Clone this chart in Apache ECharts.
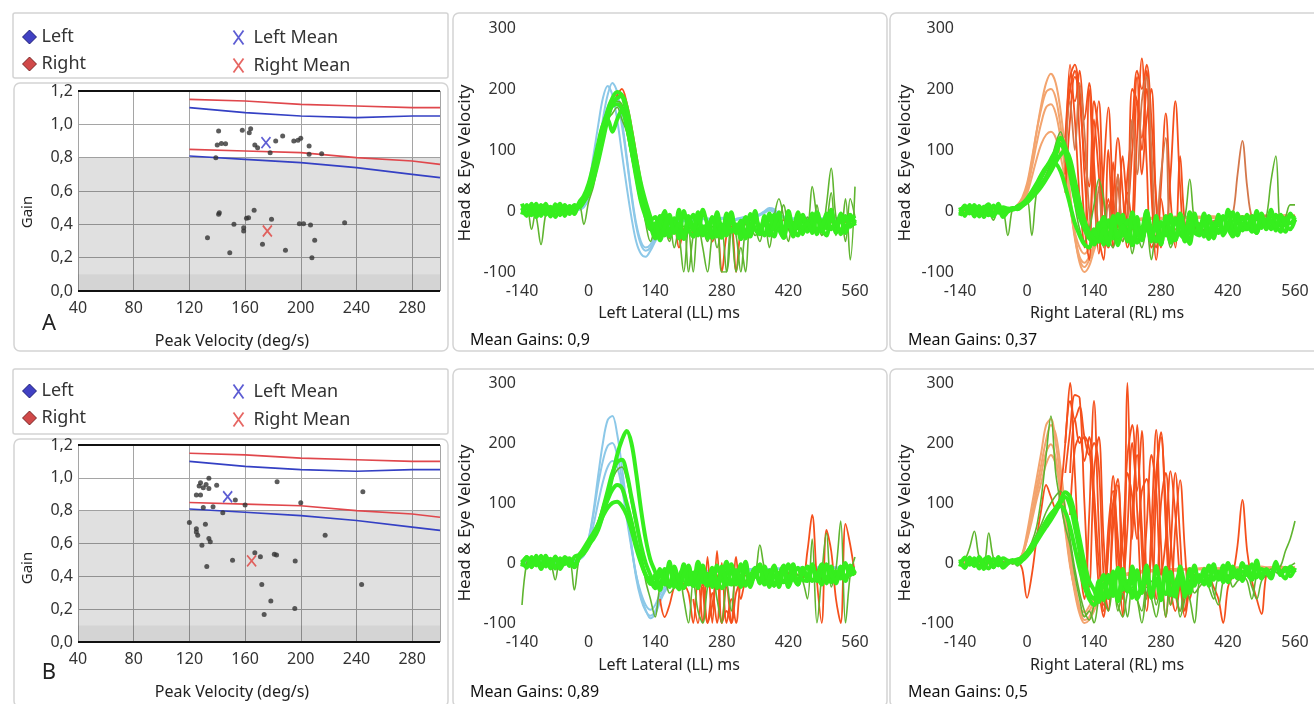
<!DOCTYPE html>
<html>
<head>
<meta charset="utf-8">
<script src="https://cdn.jsdelivr.net/npm/echarts@6/dist/echarts.min.js"></script>
<style>
  html, body { margin: 0; padding: 0; background: #fff; }
  #c { width: 1314px; height: 704px; }
</style>
</head>
<body>
<div id="c"></div>
<script>
// sample step of the velocity traces (ms); every trace starts at its own t0
var STEP = 10;

// ---- gain vs peak velocity ----
var normVel = [120, 160, 200, 240, 280, 300];
var redUpper = [1.15, 1.14, 1.12, 1.11, 1.10, 1.10];
var blueUpper = [1.10, 1.07, 1.05, 1.04, 1.05, 1.05];
var redLower = [0.85, 0.84, 0.83, 0.80, 0.78, 0.76];
var blueLower = [0.81, 0.79, 0.77, 0.74, 0.70, 0.68];

var scatA_left = [[141,0.96],[140,0.876],[146,0.884],[158,0.964],[164,0.974],[167,0.876],[169,0.86],[182,0.90],[187,0.93],[195,0.90],[200,0.916],[206,0.87],[206,0.82],[215,0.824],[178,0.83],[139,0.80],[143,0.885],[163,0.95],[198,0.905]];
var scatA_right = [[133,0.32],[141,0.46],[141.5,0.47],[149,0.23],[152,0.40],[159,0.36],[159,0.38],[161,0.436],[162.5,0.44],[166.5,0.484],[172.5,0.28],[179,0.43],[189,0.244],[199,0.404],[202,0.404],[207,0.396],[210,0.304],[208,0.20],[231.5,0.41]];
var meanA = { left: [175, 0.89], right: [176, 0.36] };

var scatB_left = [[127,0.95],[130,0.94],[134,0.997],[132,0.96],[134,0.935],[139.6,0.955],[125,0.895],[128,0.895],[153,0.865],[160,0.834],[183,0.976],[200,0.848],[244.6,0.915],[144,0.787],[137,0.824],[130,0.82],[128,0.97]];
var scatB_right = [[120,0.728],[125,0.69],[126,0.65],[131.5,0.718],[129,0.59],[134,0.63],[135,0.61],[132.5,0.46],[151,0.498],[167,0.543],[171,0.52],[181,0.535],[182.6,0.53],[196,0.494],[172,0.35],[178.5,0.25],[173.7,0.167],[195.7,0.204],[217.5,0.65],[243.7,0.35],[125,0.67]];
var meanB = { left: [147.5, 0.885], right: [164.7, 0.494] };

var meanGains = ['0,9', '0,37', '0,89', '0,5'];

// ---- A, left lateral ----
var llA_head = [
  [0,2,-1,1,0,-2,1,0,2,-1, 0,1,3,8,25,55,100,150,190,210, 195,150,90,30,-20,-50,-60,-55,-40,-30, -25,-20,-18,-15,-16,-14,-12,-15,-13,-12, -14,-15,-12,-10,-13,-15,-12,-11,-10,-8, -5,0,5,3,-5,-10,-12,-14,-13,-11, -12,-10,-13,-14,-12,-11,-13,-12,-10,-12, -11],
  [1,-1,0,2,1,-1,0,1,-1,0, 2,4,10,20,45,90,140,185,205,190, 150,95,40,-10,-50,-70,-75,-65,-50,-38, -30,-25,-20,-18,-17,-15,-16,-14,-13,-15, -12,-14,-13,-11,-12,-14,-12,-10,-11,-9, -6,-2,2,0,-6,-9,-11,-13,-12,-10, -11,-12,-10,-13,-12,-10,-11,-13,-12,-11, -10],
  [-1,0,1,0,-1,1,2,0,-1,1, 0,1,2,6,20,48,90,135,170,182, 178,140,85,25,-25,-55,-65,-60,-45,-32, -27,-22,-19,-17,-15,-14,-13,-15,-12,-13, -15,-13,-11,-12,-14,-13,-11,-10,-12,-10, -7,-3,1,-2,-7,-11,-12,-12,-11,-12, -13,-11,-12,-12,-10,-12,-13,-11,-12,-13, -12]
];
var llA_sacc = [
  { t0: -140, v: [8,4,6,10,5,8,4,9,6,3, 7,5,9,14,26,48,78,112,148,172, 190,200,178,140,95,50,10,-20,-35,-40, -30,-45,-25,-60,-30,-20,-35,-28,-40,-25, -50,-30,-100,-40,-25,-100,-30,-22,-28,-20, -25,-18,-22,-28,-20,-15,-22,-18,-20,-15, -18,-22,-15,-20,-12,-18,-22,-14,-18,-16, -15] }
];
var llA_eye = [
  [5,-8,12,-4,10,-6,7,-10,6,-3, 8,-5,12,20,35,60,95,130,165,185, 195,190,160,115,70,30,5,-15,-10,-40, -5,-38,-12,-45,0,-30,-42,-8,-35,-20, -44,-2,-30,-40,-10,-36,-18,-45,-5,-30, -38,-8,-28,-42,-12,-34,0,-30,-40,-10, -32,-4,-38,-15,-28,2,-36,-12,-30,-6, -20],
  [-6,10,-2,12,-8,6,-4,11,-7,8, -5,10,6,15,28,50,80,115,150,175, 185,188,170,130,85,45,15,-10,-35,-8, -40,-15,-32,2,-44,-20,-6,-38,-25,-45, -10,-30,-42,-4,-34,-22,-46,-12,-28,0, -36,-18,-40,-6,-30,-44,-14,-24,-2,-38, -16,-30,-8,-34,-20,-2,-28,-14,-32,-10, -24],
  [12,-4,8,-10,4,10,-6,2,12,-8, 6,-2,14,25,45,75,110,140,150,130, 150,165,140,100,60,20,-5,-25,-45,-20, 0,-42,-18,-30,-46,-8,-26,-40,2,-22, -38,-14,-44,-24,-2,-36,-28,-10,-42,-16, -26,-40,-4,-30,-20,-44,-10,-34,-24,-6, -34,-18,-2,-28,-40,-12,-24,-4,-36,-16, -8],
  [0,6,-7,9,-3,12,-9,4,-5,10, -2,7,8,18,40,70,105,140,162,172, 175,168,140,100,55,15,-10,-30,-20,-48, -25,-6,-36,-20,-44,-14,-32,-2,-40,-28, -12,-42,-22,-34,-6,-30,-16,-40,-26,-8, -30,-12,-38,-24,-2,-36,-20,-42,-10,-28, -20,-36,-10,-26,-4,-30,-18,-38,-8,-26, -14]
];
var llA_eyeDark = [
  [5,2,8,-10,-55,-5,8,3,6,2, 8,4,10,-22,15,40,80,120,150,160, 170,150,130,90,55,20,-10,-30,-40,-20, -30,-50,-20,-40,-100,-30,-100,-20,-60,-100, -40,-20,-100,-100,-30,-100,-60,-100,-20,-30, -50,-20,-60,-10,20,-10,-50,-20,-30,-15, -20,40,-10,-40,10,70,-10,-30,20,-80, 40],
  [0,6,-30,4,8,2,6,0,4,8, 5,0,6,12,30,60,100,135,160,175, 180,175,150,110,65,25,-20,-50,-30,-25, -40,-20,-60,-30,-25,-100,-40,-20,-30,-50, -25,-60,-30,-100,-20,-40,-100,-30,-25,-40, -30,-20,-10,-40,-20,10,-30,-40,-20,-30, -10,-30,10,-40,-20,30,-40,-10,-50,20, -10]
];

// ---- A, right lateral ----
var rlA_head = [
  [0,1,-1,2,0,-1,1,0,-1,2, 1,3,8,18,40,80,130,175,210,225, 210,165,100,30,-40,-85,-100,-90,-65,-45, -35,-28,-22,-20,-18,-16,-15,-14,-15,-13, -12,-14,-13,-12,-11,-12,-10,-11,-12,-10, -11,-10,-12,-11,-10,-9,-11,-10,-9,-10, -8,-9,-10,-8,-9,-7,-8,-9,-7,-8, -8],
  [1,0,2,-1,1,0,-1,1,2,0, 2,4,10,22,45,85,130,168,195,200, 185,140,80,15,-45,-80,-92,-80,-58,-40, -32,-26,-20,-18,-17,-15,-14,-15,-13,-12, -13,-12,-14,-11,-12,-10,-11,-12,-10,-11, -10,-12,-11,-9,-10,-11,-9,-10,-8,-9, -10,-8,-9,-7,-8,-9,-8,-7,-8,-9, -7],
  [0,-1,1,0,2,-1,0,1,0,-1, 0,2,6,15,35,70,110,145,170,175, 160,120,65,10,-40,-75,-85,-75,-55,-38, -30,-24,-20,-17,-16,-15,-13,-14,-12,-13, -11,-13,-12,-10,-11,-13,-10,-11,-9,-10, -11,-9,-10,-12,-9,-10,-8,-9,-10,-8, -9,-7,-8,-9,-7,-8,-9,-7,-8,-7, -8],
  [1,0,-1,1,0,1,-1,0,1,0, 1,2,5,12,28,55,85,110,125,130, 120,90,50,5,-35,-60,-70,-62,-48,-35, -28,-22,-18,-16,-15,-14,-13,-12,-13,-11, -12,-10,-11,-12,-10,-9,-11,-10,-9,-10, -9,-10,-8,-9,-10,-8,-9,-8,-7,-9, -8,-7,-9,-8,-7,-8,-6,-8,-7,-8, -7]
];
var rlA_sacc = [
  { t0: 80, v: [60,240,150,20,-60,200,40,-70,60,170, 20,-50,-20,30,-30,120,250,80,-60,-40, 20,-30,60,180,40,-50,-20,-25] },
  { t0: 80, v: [100,200,230,120,-20,-80,150,60,-40,-60, 20,120,30,-60,-20,180,120,200,30,-80, 40,160,20,-60,90,-20,-30] },
  { t0: 80, v: [30,150,220,200,60,-30,100,180,20,-40, 80,-30,90,10,100,220,60,150,200,10, -60,-20,-30] },
  { t0: 80, v: [120,220,240,180,90,40,180,120,-20,20, -60,40,-40,60,140,230,200,240,150,20, -40,-20] },
  { t0: 90, v: [200,180,230,150,210,80,-40,-80,100,-20, 60,-40,0,200,180,100,230,60,-60,-30] },
  { t0: 80, v: [80,180,100,210,130,0,-50,40,-60,10, -40,60,-50,-20,150,60,180,220,100,-30, 60,120,-40,-30, -25,-20,-22,-18,-20,-15,-18,-16,-14,-12,-10,-5,60,115,40,-10,-12,-10,-8,-10,-9,-8,-10,-9,-8], brown: true }
];
var rlA_eye = [
  [6,-8,10,-4,8,-10,5,-6,12,-2, 2,5,3,8,15,25,35,45,55,70, 90,110,95,60,20,-10,-30,-45,-50,-20, -55,-15,-45,-5,-40,-30,-55,-10,-48,-25, -50,-8,-42,-30,-52,-12,-38,-45,-2,-35, -40,-10,-30,-45,-6,-32,-20,-40,-4,-28, -30,-8,-36,-14,-26,2,-32,-12,-24,-4, -18],
  [-5,9,-2,7,-9,4,11,-6,3,-10, -1,3,6,10,18,30,42,55,70,85, 100,120,105,70,30,0,-25,-40,-55,-30, -10,-50,-28,-56,-6,-40,-20,-52,-32,0, -44,-22,-55,-14,-36,-48,-4,-30,-50,-18, -24,-42,-8,-34,-16,-38,2,-26,-40,-10, -22,-34,0,-28,-14,-30,-6,-24,-34,-8, -12],
  [3,-6,8,-9,5,2,-7,9,-3,6, 4,2,8,12,20,32,45,60,72,80, 78,65,40,10,-20,-40,-55,-60,-30,-50, -20,-45,-8,-52,-35,-15,-56,-28,-44,0, -32,-50,-18,-40,-6,-48,-24,-36,-54,-12, -30,-4,-44,-20,-36,-8,-28,-42,-14,-32, -6,-26,-36,-10,-28,-2,-22,-34,-12,-20, -10],
  [-8,4,-4,10,-6,7,-1,-9,8,2, 0,4,5,9,14,22,30,40,52,65, 80,92,100,85,50,15,-15,-35,-45,-50, -30,-56,-12,-42,-24,-50,-2,-36,-46,-18, -40,-26,-54,-8,-34,-44,-16,-50,-30,-4, -36,-18,-46,-28,-10,-40,-24,-2,-34,-20, -28,-10,-32,-4,-30,-16,-26,-6,-22,-30, -14]
];
var rlA_eyeDark = [
  [0,2,-3,3,-5,1,-2,-15,2,0, -40,5,8,10,20,-40,30,45,60,80, 110,130,100,60,10,-30,-50,-30,10,52, 20,-40,-60,-30,-50,-20,-70,-40,-60,-30, -80,-40,-50,-30,-60,-40,-20,-10,52,-20, -40,-30,-20,-35,-25,-30,-20,-25,-15,-20, -25,-20,-15,-20,-10,50,90,-20,-10,10, 10]
];

// ---- B, left lateral ----
var llB_head = [
  [0,2,-1,3,0,-2,1,2,-1,0, 1,3,6,15,40,85,145,200,238,245, 215,160,95,30,-25,-60,-80,-88,-80,-60, -45,-35,-28,-24,-20,-18,-17,-15,-16,-14, -13,-15,-14,-12,-13,-11,-12,-14,-12,-10, -11,-10,-12,-9,-10,-11,-8,-10,-9,-8, -10,-9,-8,-10,-7,-9,-8,-10,-8,-9, -8],
  [1,0,-1,1,2,0,-1,0,1,-1, 2,4,8,18,40,80,130,170,195,200, 180,140,85,30,-20,-55,-78,-92,-85,-65, -48,-36,-29,-24,-21,-19,-17,-16,-15,-14, -14,-13,-12,-13,-11,-12,-13,-11,-10,-11, -10,-9,-11,-10,-9,-10,-9,-8,-10,-9, -8,-9,-10,-8,-9,-8,-7,-9,-8,-7, -8],
  [0,-1,1,0,-1,1,0,-1,0,1, 0,2,5,12,30,62,100,135,160,170, 160,125,75,25,-20,-50,-70,-78,-70,-52, -40,-32,-26,-22,-19,-17,-16,-15,-14,-13, -12,-13,-11,-12,-10,-11,-12,-10,-11,-9, -10,-9,-10,-8,-9,-10,-8,-9,-8,-7, -9,-8,-7,-8,-9,-7,-8,-7,-8,-7, -7]
];
var llB_sacc = [
  { t0: 150, v: [-60,-90,-70,-40,-30,-35,-50,-100,-20,-100, 10,-100,20,-100,-40,-100,10,-60,-30,-25, -20, -25,-20,-18,-22,-15,-20,-18,-15,-20,-25, 20,80,-30,-100,55,20,-60,-100,65,30,-20] },
  { t0: 220, v: [-60,-100,-30,-100,-50,-100,0,-100,-60,-100,-30,-20] },
  { t0: 240, v: [-40,-100,-70,-20,-100,-80,-100,-50,-30,-20] }
];
var llB_eye = [
  [5,-8,10,-4,12,-6,7,-9,8,-2, 5,-4,12,20,30,40,55,80,110,145, 180,205,220,200,150,90,40,5,-15,-40, -10,-35,-20,-42,-2,-28,-38,-6,-32,-18, -40,-4,-26,-36,-12,-30,-2,-38,-22,-8, -34,-14,-40,-6,-26,-32,-2,-24,-36,-10, -28,-4,-30,-18,-8,-32,-14,-26,0,-20, -12],
  [-6,10,-3,12,-8,9,-5,10,-10,4, 8,-6,10,18,32,45,62,90,120,150, 168,172,150,110,70,30,0,-20,-38,-10, -32,2,-40,-22,-8,-36,-16,-42,-4,-28, -14,-38,-24,2,-34,-20,-40,-6,-30,-18, -2,-30,-12,-38,-20,-4,-32,-16,-36,-8, -22,-2,-28,-12,-34,-6,-24,-16,-30,-4, -18],
  [2,8,-7,9,-4,6,-9,11,-2,7, -5,10,14,25,38,50,65,85,105,122, 130,125,100,70,35,5,-20,-35,-20,-45, -18,-40,-6,-30,-42,-14,-34,2,-26,-38, -8,-30,-42,-16,-2,-36,-24,-10,-40,-20, -30,-6,-36,-20,-40,-10,-26,-2,-34,-18, -6,-30,-20,-2,-28,-14,-34,-8,-24,-12, -10],
  [-3,10,-6,4,-10,12,-4,9,-8,10, 1,-7,8,16,28,45,60,78,92,100, 102,95,80,55,25,0,-20,-30,-42,-15, -36,-8,-30,-44,-20,-4,-38,-26,-10,-32, -24,-42,-6,-30,-36,-12,-26,2,-34,-20, -12,-36,-24,-4,-30,-14,-40,-20,-8,-28, -30,-10,-22,-36,-2,-20,-30,-6,-26,-14, -20]
];
var llB_eyeDark = [
  [-70,0,10,5,-5,8,2,-28,5,0, 3,-45,6,15,35,50,70,95,120,140, 155,160,140,100,60,20,-30,-60,-90,-40, -30,-50,-40,-20,-60,-100,-30,-80,-100,-40, -20,-60,-100,-30,-80,-20,-40,-30,-25,-20, 30,-10,-25,-40,-20,-30,-15,-25,-20,-30, -60,40,-100,-20,50,-40,-10,70,-100,-20, 10]
];

// ---- B, right lateral ----
var rlB_head = [
  [0,1,-1,2,0,-1,1,0,-1,2, 1,0,2,15,50,95,140,185,230,240, 200,140,70,0,-50,-85,-100,-95,-80,-60, -45,-35,-30,-26,-22,-20,-18,-17,-16,-15, -14,-15,-13,-14,-12,-13,-12,-11,-12,-10, -11,-10,-12,-10,-9,-10,-11,-9,-10,-8, -9,-8,-10,-8,-9,-7,-8,-9,-8,-7, -8],
  [1,0,2,-1,0,1,-1,2,0,1, 0,1,3,12,40,80,125,165,205,230, 215,160,90,20,-35,-75,-95,-90,-72,-55, -42,-33,-27,-24,-21,-19,-18,-16,-15,-14, -13,-14,-12,-13,-11,-12,-11,-10,-11,-10, -10,-11,-9,-10,-9,-10,-8,-9,-10,-8, -9,-8,-7,-9,-8,-7,-8,-7,-8,-9, -7],
  [-1,1,0,1,-1,0,2,-1,1,0, 2,1,4,14,42,78,115,150,185,198, 175,120,60,0,-45,-78,-88,-80,-64,-48, -38,-30,-25,-22,-20,-18,-16,-15,-14,-13, -12,-13,-11,-12,-10,-11,-12,-10,-9,-10, -9,-10,-8,-9,-10,-8,-9,-8,-7,-8, -9,-7,-8,-7,-8,-9,-7,-8,-7,-8, -8],
  [0,1,0,-1,1,0,-1,1,0,1, 0,2,5,14,38,70,105,135,165,180, 165,115,55,-5,-45,-75,-82,-72,-58,-44, -35,-28,-23,-20,-18,-17,-15,-14,-13,-12, -12,-11,-12,-10,-11,-10,-9,-10,-9,-10, -9,-8,-9,-8,-9,-8,-7,-8,-9,-7, -8,-7,-8,-6,-7,-8,-7,-6,-7,-8, -7]
];
var rlB_sacc = [
  { t0: -20, v: [5,-10,-58,-20,40,90,130,110,90,120, 200,300,150,0,-60,80,270,60,-80,20, 145,10,-90,300,40,230,20,-80,60,222, 30,-90,20,150,40,-80,-30,-20, -20,-30,-25,-40,-60,-100,-40,-20,30,105, 20,-30,-60,-85,-20,-15,-10,-12,-10,-8,-10] },
  { t0: 80, v: [150,220,280,275,100,-40,150,210,40,-60, 60,130,20,-40,80,180,60,-60,20,150, 218,60,-70,60,138,20,-60,-30,-20] },
  { t0: 90, v: [150,240,200,210,190,90,-40,-90,30,100, -20,40,180,230,90,-40,60,180,120,-20, 40,153,80,-30,-90,-40,-20] },
  { t0: 90, v: [80,190,210,170,210,120,0,-70,60,120, 40,-60,150,110,40,120,140,40,-60,100, 150,40,-50,-80,-30] },
  { t0: 80, v: [200,270,240,260,210,180,200,160,-20,-80, 100,140,-40,60,200,120,220,-30,-60,120, 210,100,-40,-80,-30] }
];
var rlB_eye = [
  [6,-8,9,-4,7,-10,5,-7,10,-3, 2,5,-2,4,12,22,35,48,60,72, 85,100,110,95,60,20,-20,-50,-60,-30, -62,-20,-55,-8,-45,-30,-58,-12,-50,-25, -55,-5,-40,-52,-15,-48,-28,-56,-10,-38, -20,-36,-4,-28,-14,-32,0,-24,-12,-30, -6,-22,4,-26,-10,-18,2,-20,-8,-14, -10],
  [-6,9,-3,8,-9,5,10,-7,4,-8, -1,3,6,8,16,28,40,55,70,82, 90,95,85,60,25,-10,-40,-60,-70,-45, -20,-58,-35,-64,-10,-48,-26,-60,-40,-4, -52,-30,-62,-18,-44,-56,-6,-36,-50,-22, -30,-10,-34,-2,-26,-18,-32,-6,-24,-14, -20,-2,-24,-10,-16,-26,-4,-18,-12,-22, -8],
  [3,-8,6,-5,10,-3,-9,7,-4,8, 4,2,5,10,18,30,42,55,68,80, 92,105,118,110,80,40,0,-30,-45,-65, -35,-52,-14,-60,-30,-44,-6,-56,-38,-18, -58,-26,-46,-8,-54,-34,-16,-50,-42,-4, -32,-20,-38,-8,-28,-4,-30,-16,-26,0, -18,-28,-6,-20,-12,-24,-2,-16,-26,-6, -16]
];
var rlB_eyeDark = [
  [0,5,25,53,10,0,50,8,2,0, 3,-2,5,10,20,35,60,110,180,245, 150,100,60,30,-20,-60,-90,-80,-100,-60, -40,-60,-30,-80,-50,-90,-40,-60,-100,-50, -30,-70,-40,-90,-30,-50,-80,-40,-60,-100, -30,-20,-40,-60,-25,-30,-20,-25,-15,-20, -30,-60,-20,-10,-15,-20,-10,-5,20,40, 70],
  [2,-2,4,0,-3,2,0,3,-1,2, 0,3,-5,6,15,30,48,65,85,100, 112,120,90,40,-10,-50,-80,-95,-70,-40, -60,-80,-40,-70,-90,-50,-30,-60,-80,-40, -60,-90,-50,-30,-70,-40,-90,-60,-30,-50, -40,-30,-20,-50,-70,-30,-20,-40,-30,-25, -20,-40,-60,-30,-20,-10,-15,-20,-10,-5, 0]
];

var FONT = '"Noto Sans", "Open Sans", sans-serif';
var C = {
  blueHead: '#8cc8e8', orangeHead: '#f3a46e', sacc: '#f5501c', saccBrown: '#d4774a',
  eye: '#36ee1e', eyeDark: '#5fb52f', dot: '#333333',
  normRed: '#e0474c', normBlue: '#3440c4', meanBlue: '#3434c8', meanRed: '#e0403c'
};

// grids: 0 scatter A, 1 LL A, 2 RL A, 3 scatter B, 4 LL B, 5 RL B
var grids = [
  { left: 78, top: 91, width: 362, height: 200 },
  { left: 522, top: 28, width: 333, height: 244 },
  { left: 960, top: 28, width: 335, height: 244 },
  { left: 78, top: 445, width: 362, height: 197 },
  { left: 522, top: 383, width: 333, height: 240 },
  { left: 960, top: 383, width: 335, height: 240 }
];

var lbl = { fontSize: 16, color: '#333', fontFamily: FONT };
var xAxes = [], yAxes = [];
grids.forEach(function (g, i) {
  if (i % 3 === 0) {
    xAxes.push({ gridIndex: i, type: 'value', min: 40, max: 300, interval: 40,
      axisLine: { show: false }, axisTick: { show: false },
      splitLine: { show: true, lineStyle: { color: '#a5a5a5', width: 1 } },
      axisLabel: Object.assign({ margin: 9, showMaxLabel: false }, lbl) });
    yAxes.push({ gridIndex: i, type: 'value', min: 0, max: 1.2, interval: 0.2,
      axisLine: { show: false }, axisTick: { show: false },
      splitLine: { show: true, lineStyle: { color: '#a5a5a5', width: 1 } },
      axisLabel: Object.assign({ margin: 5, formatter: function (v) { return v.toFixed(1).replace('.', ','); } }, lbl) });
  } else {
    xAxes.push({ gridIndex: i, type: 'value', min: -140, max: 560, interval: 140,
      axisLine: { show: false }, axisTick: { show: false }, splitLine: { show: false },
      axisLabel: Object.assign({ margin: 11 }, lbl) });
    yAxes.push({ gridIndex: i, type: 'value', min: -100, max: 300, interval: 100,
      axisLine: { show: false }, axisTick: { show: false }, splitLine: { show: false },
      axisLabel: Object.assign({ margin: 6 }, lbl) });
  }
});

var series = [];

function trace(vals, t0, color, width, gi, z) {
  var data = vals.map(function (v, i) { return [t0 + STEP * i, v]; });
  series.push({ type: 'line', xAxisIndex: gi, yAxisIndex: gi, data: data,
    symbol: 'none', smooth: 0.35, silent: true, z: z,
    lineStyle: { color: color, width: width } });
}

function velPanel(gi, head, headColor, sacc, eye, eyeDark) {
  head.forEach(function (h) { trace(h, -140, headColor, 2, gi, 2); });
  sacc.forEach(function (s) { trace(s.v, s.t0, s.brown ? C.saccBrown : C.sacc, 1.8, gi, 3); });
  eyeDark.forEach(function (e) { trace(e, -140, C.eyeDark, 1.6, gi, 4); });
  eye.forEach(function (e) { trace(e, -140, C.eye, 4, gi, 5); });
}

var crossPath = 'path://M0,0L10,14M10,0L0,14';

function scatterPanel(gi, left, right, mean) {
  function norm(arr, color) {
    series.push({ type: 'line', xAxisIndex: gi, yAxisIndex: gi, symbol: 'none', silent: true, z: 3,
      data: normVel.map(function (v, i) { return [v, arr[i]]; }),
      lineStyle: { color: color, width: 1.6 } });
  }
  // grey bands and the black frame lines
  series.push({ type: 'line', xAxisIndex: gi, yAxisIndex: gi, data: [], silent: true, z: 1,
    markArea: { silent: true, data: [
      [{ yAxis: 0, itemStyle: { color: 'rgba(0,0,0,0.12)' } }, { yAxis: 0.8 }],
      [{ yAxis: 0, itemStyle: { color: 'rgba(0,0,0,0.05)' } }, { yAxis: 0.1 }]
    ] },
    markLine: { silent: true, symbol: 'none', label: { show: false },
      lineStyle: { color: '#111', width: 2, type: 'solid' },
      data: [{ yAxis: 0 }, { yAxis: 1.2 }] } });
  norm(redUpper, C.normRed); norm(blueUpper, C.normBlue);
  norm(redLower, C.normRed); norm(blueLower, C.normBlue);
  series.push({ name: 'Left', type: 'scatter', xAxisIndex: gi, yAxisIndex: gi, data: left,
    symbol: 'circle', symbolSize: 5, itemStyle: { color: C.dot }, z: 4 });
  series.push({ name: 'Right', type: 'scatter', xAxisIndex: gi, yAxisIndex: gi, data: right,
    symbol: 'circle', symbolSize: 5, itemStyle: { color: C.dot }, z: 4 });
  series.push({ name: 'Left Mean', type: 'scatter', xAxisIndex: gi, yAxisIndex: gi, data: [mean.left],
    symbol: crossPath, symbolSize: [9, 11], z: 5,
    itemStyle: { color: 'none', borderColor: C.meanBlue, borderWidth: 1.8 } });
  series.push({ name: 'Right Mean', type: 'scatter', xAxisIndex: gi, yAxisIndex: gi, data: [mean.right],
    symbol: crossPath, symbolSize: [9, 11], z: 5,
    itemStyle: { color: 'none', borderColor: C.meanRed, borderWidth: 1.8 } });
}

scatterPanel(0, scatA_left, scatA_right, meanA);
velPanel(1, llA_head, C.blueHead, llA_sacc, llA_eye, llA_eyeDark);
velPanel(2, rlA_head, C.orangeHead, rlA_sacc, rlA_eye, rlA_eyeDark);
scatterPanel(3, scatB_left, scatB_right, meanB);
velPanel(4, llB_head, C.blueHead, llB_sacc, llB_eye, llB_eyeDark);
velPanel(5, rlB_head, C.orangeHead, rlB_sacc, rlB_eye, rlB_eyeDark);

var legends = [];
[23, 377].forEach(function (top) {
  var common = { top: top, orient: 'vertical', itemGap: 9, itemHeight: 14,
    selectedMode: false, textStyle: { fontSize: 18, color: '#333', fontFamily: FONT } };
  legends.push(Object.assign({ left: 17, itemWidth: 14, data: [
    { name: 'Left', icon: 'diamond', itemStyle: { color: '#1212b4', borderColor: '#0a0a60', borderWidth: 1 } },
    { name: 'Right', icon: 'diamond', itemStyle: { color: '#c41c1c', borderColor: '#601010', borderWidth: 1 } }
  ] }, common));
  legends.push(Object.assign({ left: 226, itemWidth: 20, data: [
    { name: 'Left Mean', icon: crossPath, itemStyle: { color: 'none', borderColor: C.meanBlue, borderWidth: 1.8 } },
    { name: 'Right Mean', icon: crossPath, itemStyle: { color: 'none', borderColor: C.meanRed, borderWidth: 1.8 } }
  ] }, common));
});

var graphics = [];
function box(x, y, w, h, r) {
  graphics.push({ type: 'rect', silent: true, z: -1,
    shape: { x: x, y: y, width: w, height: h, r: r },
    style: { fill: 'none', stroke: '#d4d4d4', lineWidth: 1.5 } });
}
function text(str, x, y, opt) {
  graphics.push(Object.assign({ type: 'text', silent: true, x: x, y: y,
    style: Object.assign({ text: str, fill: '#222', font: '16px ' + FONT, textAlign: 'center', textVerticalAlign: 'middle' }, opt && opt.style) },
    opt && opt.el));
}

[0, 356].forEach(function (dy, r) {
  box(13, 13 + dy, 435, 65, 2);
  box(14, 83 + dy, 434, 268, 6);
  box(453, 13 + dy, 434, 338, 6);
  box(890, 13 + dy, 430, 338, 6);
  text('Gain', 28, 212 + dy, { el: { rotation: Math.PI / 2 }, style: { font: '15px ' + FONT } });
  text(r === 0 ? 'A' : 'B', 49, 324 + (r ? 349 : 0), { style: { font: '22px ' + FONT } });
  text('Peak Velocity (deg/s)', 232, 341 + (r ? 351 : 0));
  text('Head & Eye Velocity', 465, 163 + (r ? 360 : 0), { el: { rotation: Math.PI / 2 }, style: { font: '17px ' + FONT } });
  text('Head & Eye Velocity', 905, 163 + (r ? 360 : 0), { el: { rotation: Math.PI / 2 }, style: { font: '17px ' + FONT } });
  text('Left Lateral (LL) ms', 669, 313 + (r ? 352 : 0));
  text('Right Lateral (RL) ms', 1107, 313 + (r ? 352 : 0));
  text('Mean Gains: ' + meanGains[r * 2], 470, 340 + (r ? 352 : 0), { style: { textAlign: 'left', fill: '#111' } });
  text('Mean Gains: ' + meanGains[r * 2 + 1], 908, 340 + (r ? 352 : 0), { style: { textAlign: 'left', fill: '#111' } });
});

var chart = echarts.init(document.getElementById('c'), null, { renderer: 'canvas' });
chart.setOption({
  backgroundColor: '#fff',
  animation: false,
  textStyle: { fontFamily: FONT },
  grid: grids,
  xAxis: xAxes,
  yAxis: yAxes,
  legend: legends,
  graphic: graphics,
  series: series
});
</script>
</body>
</html>
